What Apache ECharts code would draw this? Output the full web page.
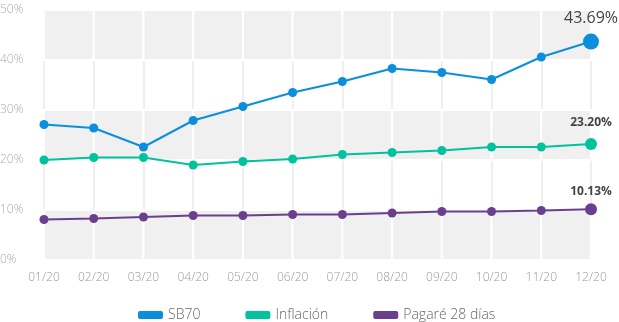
<!DOCTYPE html>
<html>
<head>
<meta charset="utf-8">
<script src="https://cdn.jsdelivr.net/npm/echarts@6/dist/echarts.min.js"></script>
<style>
html,body{margin:0;padding:0;background:#fff;}
#chart{width:619px;height:322px;}
</style>
</head>
<body>
<div id="chart"></div>
<script>
const categories = ['01/20','02/20','03/20','04/20','05/20','06/20','07/20','08/20','09/20','10/20','11/20','12/20'];
const sb70 = [27.1, 26.4, 22.6, 27.9, 30.7, 33.5, 35.7, 38.3, 37.5, 36.1, 40.6, 43.69];
const inflacion = [20.0, 20.5, 20.5, 19.0, 19.7, 20.2, 21.1, 21.5, 21.9, 22.6, 22.6, 23.20];
const pagare = [8.1, 8.3, 8.6, 8.9, 8.9, 9.1, 9.1, 9.4, 9.7, 9.7, 9.9, 10.13];
const seriesNames = ['SB70', 'Inflación', 'Pagaré 28 días'];
const colors = ['#0b8fdb', '#00c29d', '#6c3f8e'];
const yTicks = [0, 10, 20, 30, 40, 50];
const grayBands = [[0, 10], [20, 30], [40, 50]];

const FONT = '"Open Sans", sans-serif';

// gray band pieces between consecutive categories
const bandPieces = [];
grayBands.forEach(b => {
  for (let i = 0; i < categories.length - 1; i++) {
    bandPieces.push([{xAxis: categories[i], yAxis: b[0]}, {xAxis: categories[i + 1], yAxis: b[1]}]);
  }
});

function mkData(arr, lastSize, labelSize, labelWeight, dist) {
  return arr.map((v, i) => {
    if (i === arr.length - 1) {
      return {
        value: v,
        symbolSize: lastSize,
        label: {
          show: true, position: 'top', distance: dist,
          formatter: v.toFixed(2) + '%',
          fontFamily: FONT, fontSize: labelSize, fontWeight: labelWeight, color: '#444'
        }
      };
    }
    return v;
  });
}

const chart = echarts.init(document.getElementById('chart'), null, {renderer: 'canvas'});
chart.setOption({
  animation: false,
  color: colors,
  grid: {left: 44, right: 28, top: 10, bottom: 62, containLabel: false, outerBoundsMode: 'none'},
  legend: {
    data: seriesNames.map(n => ({name: n, icon: 'roundRect'})),
    left: 133, top: 303,
    itemWidth: 25, itemHeight: 8, itemGap: 45,
    textStyle: {fontFamily: FONT, fontSize: 14, color: '#666', fontWeight: 300}
  },
  xAxis: {
    type: 'category', data: categories, boundaryGap: false,
    axisLine: {show: false}, axisTick: {show: false},
    axisLabel: {fontFamily: FONT, fontSize: 12, color: '#999', margin: 12, fontWeight: 300},
    splitLine: {show: true, lineStyle: {color: '#efefef', width: 2}}
  },
  yAxis: {
    type: 'value', min: yTicks[0], max: yTicks[yTicks.length - 1], interval: 10,
    axisLine: {show: false}, axisTick: {show: false},
    splitLine: {show: false},
    axisLabel: {fontFamily: FONT, fontSize: 12, color: '#aaa', align: 'left', margin: 44, fontWeight: 300,
      formatter: v => v + '%'}
  },
  series: [
    {
      name: seriesNames[0], type: 'line', data: mkData(sb70, 16, 16, 500, 7),
      symbol: 'circle', symbolSize: 9, lineStyle: {width: 2}, z: 5,
      markArea: {silent: true, itemStyle: {color: '#f0f0f0', borderColor: '#fff', borderWidth: 2}, data: bandPieces}
    },
    {
      name: seriesNames[1], type: 'line', data: mkData(inflacion, 12, 12, 'bold', 9),
      symbol: 'circle', symbolSize: 9, lineStyle: {width: 2}, z: 5
    },
    {
      name: seriesNames[2], type: 'line', data: mkData(pagare, 12, 12, 'bold', 6),
      symbol: 'circle', symbolSize: 9, lineStyle: {width: 2}, z: 5
    }
  ]
});
</script>
</body>
</html>
